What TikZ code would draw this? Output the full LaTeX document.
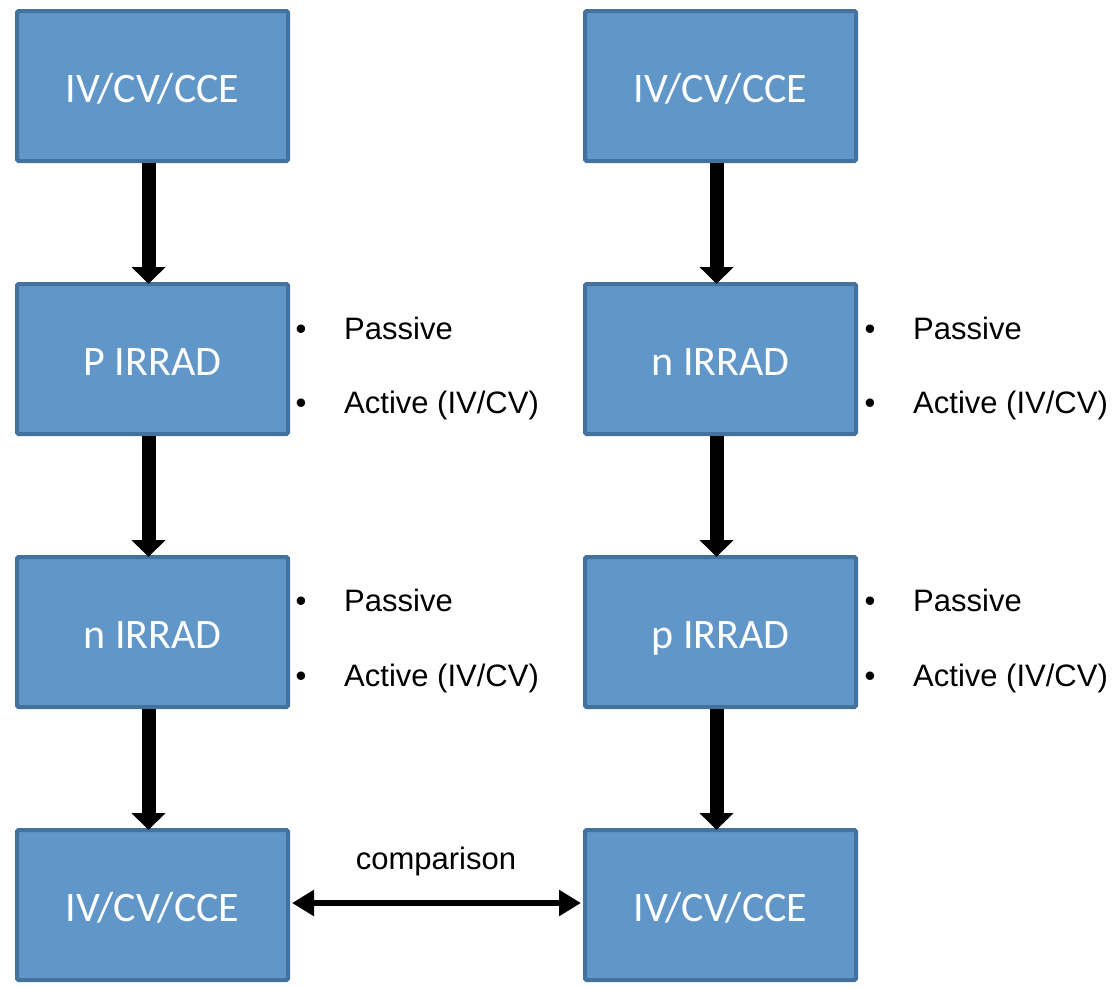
\documentclass[tikz,border=0pt]{standalone}
\usepackage{fontspec}
\setmainfont{Liberation Sans}
\newfontfamily\boxfont{Carlito}
\usetikzlibrary{arrows.meta}
\definecolor{boxfill}{HTML}{6096C8}
\definecolor{boxedge}{HTML}{44729F}
\begin{document}
\begin{tikzpicture}[x=1pt,y=-1pt,
  stagebox/.style={draw=boxedge,fill=boxfill,line width=4pt,rounded corners=1.5pt,
    minimum width=271pt,minimum height=150pt,inner sep=0pt,
    text height=34pt,text depth=2pt,
    text=white,font=\boxfont\fontsize{42}{50}\selectfont},
  flowarrow/.style={line width=14pt,-{Triangle[width=33pt,length=17pt]}},
  cmparrow/.style={line width=6pt,{Triangle[width=25pt,length=22pt]}-{Triangle[width=25pt,length=22pt]}},
  bullettext/.style={anchor=base west,inner sep=0pt,font=\fontsize{31}{36}\selectfont},
  bulletdot/.style={anchor=base,inner sep=0pt,font=\fontsize{31}{36}\selectfont}]
\useasboundingbox (0,0) rectangle (1115,988);
% left column
\node[stagebox] (L1) at (152.5,86) {IV/CV/CCE};
\node[stagebox] (L2) at (152.5,359) {P IRRAD};
\node[stagebox] (L3) at (152.5,632) {n IRRAD};
\node[stagebox] (L4) at (152.5,905) {IV/CV/CCE};
% right column
\node[stagebox] (R1) at (720.5,86) {IV/CV/CCE};
\node[stagebox] (R2) at (720.5,359) {n IRRAD};
\node[stagebox] (R3) at (720.5,632) {p IRRAD};
\node[stagebox] (R4) at (720.5,905) {IV/CV/CCE};
% vertical arrows
\draw[flowarrow] ([xshift=-4pt]L1.south) -- ([xshift=-4pt,yshift=-2pt]L2.north);
\draw[flowarrow] ([xshift=-4pt]L2.south) -- ([xshift=-4pt,yshift=-2pt]L3.north);
\draw[flowarrow] ([xshift=-4pt]L3.south) -- ([xshift=-4pt,yshift=-2pt]L4.north);
\draw[flowarrow] ([xshift=-4pt]R1.south) -- ([xshift=-4pt,yshift=-2pt]R2.north);
\draw[flowarrow] ([xshift=-4pt]R2.south) -- ([xshift=-4pt,yshift=-2pt]R3.north);
\draw[flowarrow] ([xshift=-4pt]R3.south) -- ([xshift=-4pt,yshift=-2pt]R4.north);
% comparison arrow
\draw[cmparrow] ([xshift=2pt,yshift=2pt]L4.east) -- ([xshift=-2pt,yshift=2pt]R4.west);
\node[anchor=base,inner sep=0pt,font=\fontsize{31}{36}\selectfont] (cmp) at (436,869) {comparison};
% bullet lists
\node[bulletdot] (b1) at (301,339) {•};
\node[bullettext] (t1) at (344,339) {Passive};
\node[bulletdot] (b2) at (301,413) {•};
\node[bullettext] (t2) at (344,413) {Active (IV/CV)};
\node[bulletdot] (b3) at (301,611) {•};
\node[bullettext] (t3) at (344,611) {Passive};
\node[bulletdot] (b4) at (301,686) {•};
\node[bullettext] (t4) at (344,686) {Active (IV/CV)};
\node[bulletdot] (b5) at (870,339) {•};
\node[bullettext] (t5) at (913,339) {Passive};
\node[bulletdot] (b6) at (870,413) {•};
\node[bullettext] (t6) at (913,413) {Active (IV/CV)};
\node[bulletdot] (b7) at (870,611) {•};
\node[bullettext] (t7) at (913,611) {Passive};
\node[bulletdot] (b8) at (870,686) {•};
\node[bullettext] (t8) at (913,686) {Active (IV/CV)};
\end{tikzpicture}
\end{document}
